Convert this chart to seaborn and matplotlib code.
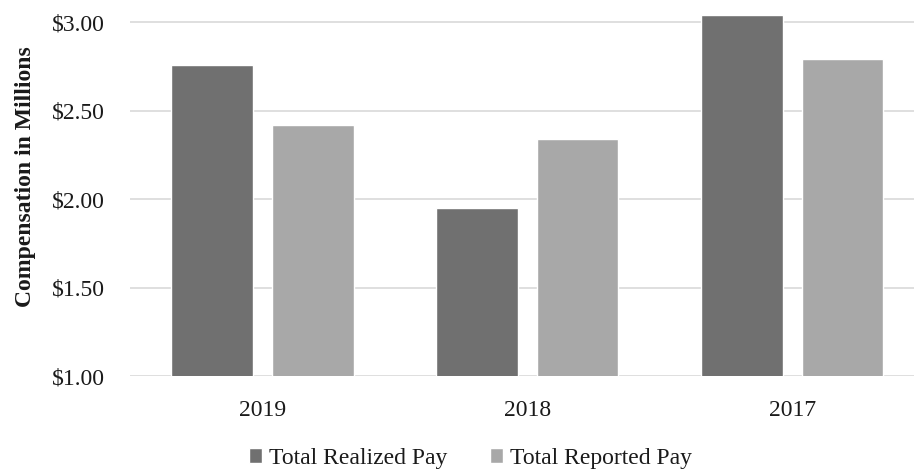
import matplotlib
matplotlib.use("Agg")
import matplotlib.pyplot as plt
import seaborn as sns
import pandas as pd
from matplotlib.ticker import FuncFormatter

years = ["2019", "2018", "2017"]
realized = [2.76, 1.95, 3.04]
reported = [2.42, 2.34, 2.79]
series_names = ["Total Realized Pay", "Total Reported Pay"]
yticks = [1.0, 1.5, 2.0, 2.5, 3.0]

df = pd.DataFrame({
    "year": years * 2,
    "value": realized + reported,
    "series": [series_names[0]] * 3 + [series_names[1]] * 3,
})

sns.set_theme(style="white")
plt.rcParams["font.family"] = ["Liberation Serif", "DejaVu Serif"]

fig = plt.figure(figsize=(9.14, 4.72), dpi=100)
ax = fig.add_axes([130 / 914, 1 - 376 / 472, 784 / 914, 366 / 472])

palette = {series_names[0]: "#707070", series_names[1]: "#a8a8a8"}
sns.barplot(data=df, x="year", y="value", hue="series", order=years,
            hue_order=series_names, palette=palette, width=0.76, gap=0.19,
            ax=ax, legend=True, saturation=1)

ax.set_ylim(1.0, 3.068)
ax.set_xlim(-0.5, 2.46)
ax.set_yticks(yticks)
ax.yaxis.set_major_formatter(FuncFormatter(lambda v, p: f"${v:.2f}"))
ax.yaxis.grid(True, color="#d9d9d9", linewidth=1.2)
ax.set_axisbelow(True)
for s in ax.spines.values():
    s.set_visible(False)
ax.tick_params(axis="both", length=0, labelsize=17, colors="#1a1a1a")
ax.tick_params(axis="x", pad=17)
ax.tick_params(axis="y", pad=18)
ax.set_xlabel("")
ax.set_ylabel("Compensation in Millions", fontsize=17, fontweight="bold",
              color="#1a1a1a")
ax.yaxis.set_label_coords(-0.12, 0.544)

leg = ax.legend(loc="center", bbox_to_anchor=(0.5 - 0.066, -0.225), ncol=2,
                frameon=False, fontsize=17, handlelength=0.55, handleheight=0.55,
                handletextpad=0.3, columnspacing=1.8)
for t in leg.get_texts():
    t.set_color("#1a1a1a")

fig.savefig("out.png", dpi=100, facecolor="white")
